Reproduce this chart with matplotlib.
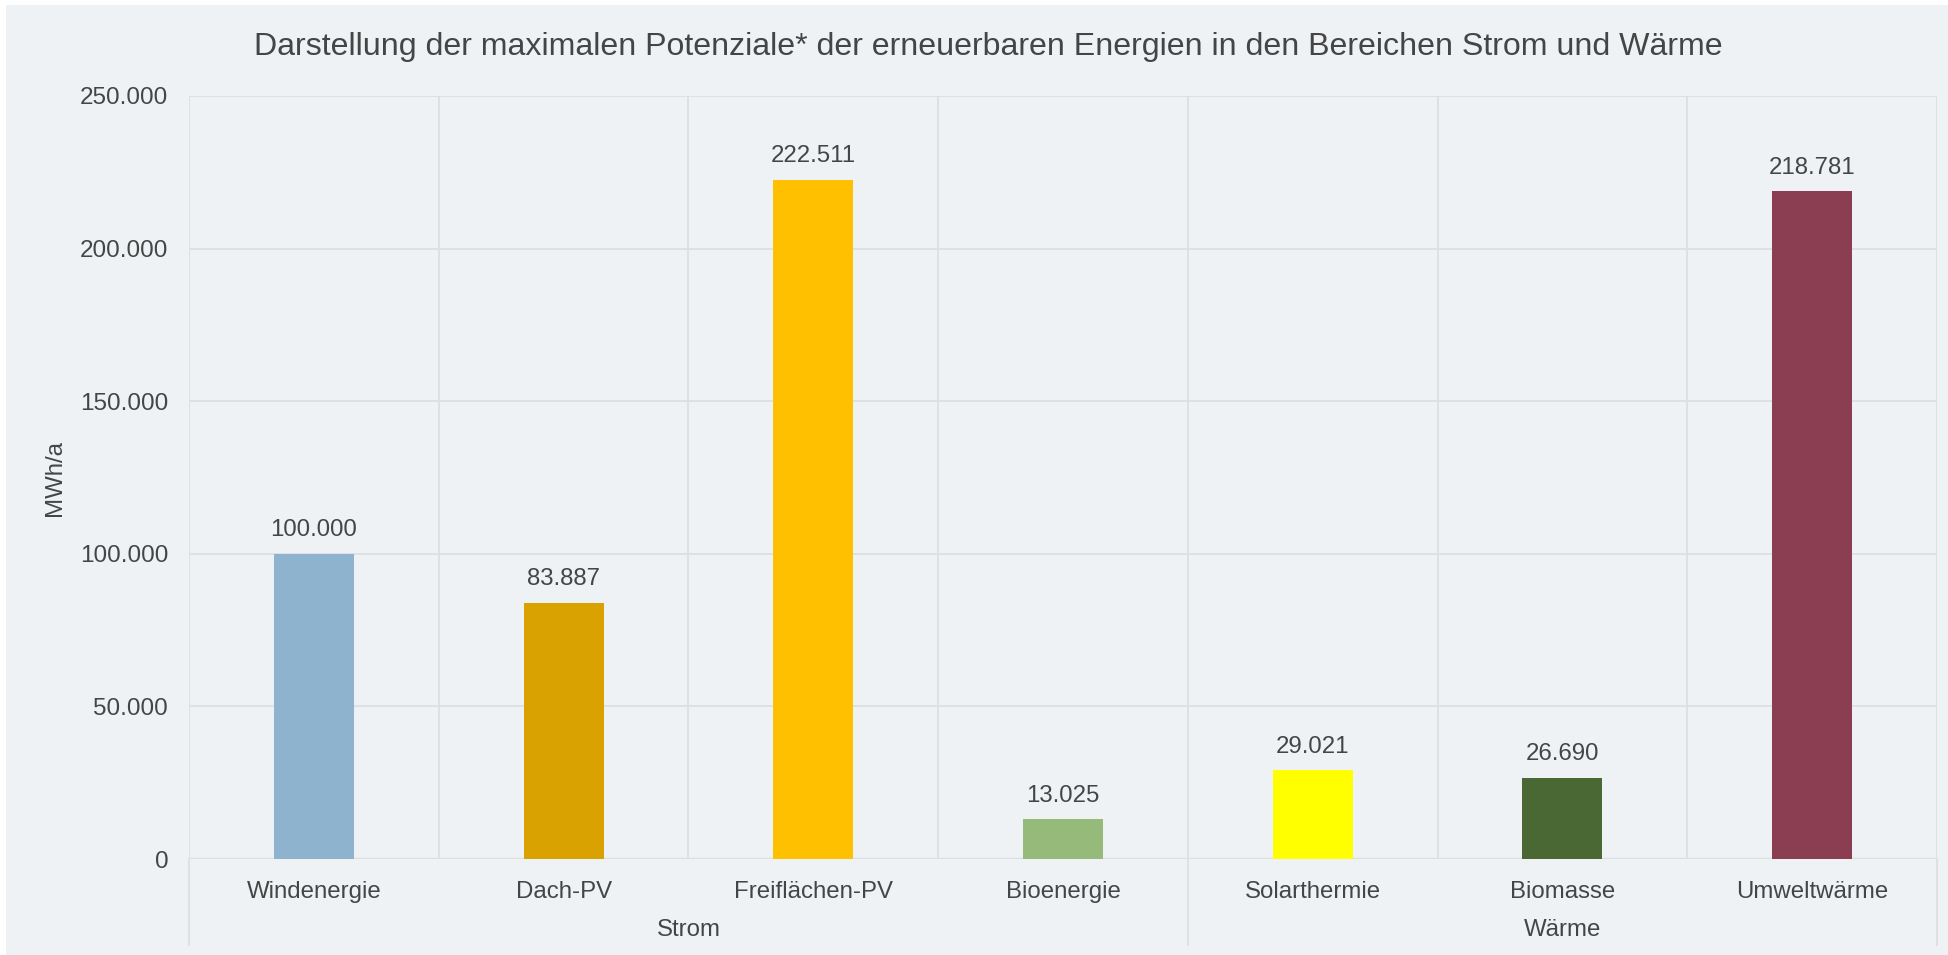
import matplotlib.pyplot as plt
from matplotlib.patches import Rectangle

plt.rcParams['font.family'] = ['Liberation Sans', 'DejaVu Sans']

# Data
categories = ['Windenergie', 'Dach-PV', 'Freiflächen-PV', 'Bioenergie',
              'Solarthermie', 'Biomasse', 'Umweltwärme']
values = [100000, 83887, 222511, 13025, 29021, 26690, 218781]
colors = ['#8DB3CF', '#D9A200', '#FFC000', '#96BA7A',
          '#FFFF00', '#4A6834', '#8B3E52']
groups = ['Strom', 'Wärme']
group_sizes = [4, 3]
yticks = [0, 50000, 100000, 150000, 200000, 250000]

bg = '#EEF2F5'
txt = '#454545'
grid = '#DDDFE1'

def fmt(v):
    return f'{v:,.0f}'.replace(',', '.')

W, H = 1949, 955
fig = plt.figure(figsize=(W / 100, H / 100), dpi=100, facecolor='white')
fig.patches.append(Rectangle((6 / W, 0), 1 - 6 / W, 1 - 5 / H,
                             transform=fig.transFigure, facecolor=bg,
                             edgecolor='none', zorder=-10))

ax = fig.add_axes([189 / W, (H - 859) / H, (1937 - 189) / W, (859 - 96) / H])
ax.set_facecolor(bg)

x = list(range(len(categories)))
bars = ax.bar(x, values, width=0.32, color=colors, zorder=3)
for xi, v in zip(x, values):
    ax.annotate(fmt(v), (xi, v), xytext=(0, 9), textcoords='offset points',
                ha='center', va='bottom', fontsize=17.3, color=txt)

ax.set_xlim(-0.5, len(categories) - 0.5)
ax.set_ylim(0, 250000)
ax.set_yticks(yticks)
ax.set_yticklabels([fmt(v) for v in yticks], fontsize=17.5, color=txt)
ax.set_xticks(x)
ax.set_xticklabels(categories, fontsize=17.3, color=txt)
ax.tick_params(axis='both', length=0)
ax.tick_params(axis='y', pad=15)
ax.tick_params(axis='x', pad=16)

for s in ax.spines.values():
    s.set_visible(False)

# horizontal grid + category boundaries
for yv in yticks:
    ax.axhline(yv, color=grid, lw=1.3 if yv else 2.5, zorder=1)
for b in range(len(categories) + 1):
    ax.axvline(b - 0.5, color=grid, lw=1.3, zorder=1)

# group separators below the axis and group labels
bottom = -(945 - 859) / (859 - 96)
start = 0
for i, (g, n) in enumerate(zip(groups, group_sizes)):
    ax.plot([start - 0.5, start - 0.5], [0, bottom], transform=ax.get_xaxis_transform(),
            color=grid, lw=1.3, clip_on=False)
    ax.text(start - 0.5 + n / 2, -(930 - 859) / (859 - 96), g,
            transform=ax.get_xaxis_transform(), ha='center', va='center',
            fontsize=17.3, color=txt)
    start += n
ax.plot([start - 0.5, start - 0.5], [0, bottom], transform=ax.get_xaxis_transform(),
        color=grid, lw=1.3, clip_on=False)

ax.set_ylabel('MWh/a', fontsize=17.3, color=txt)
ax.yaxis.set_label_coords(-(189 - 66) / (1937 - 189), 0.5)

fig.text(988 / W, 1 - 47 / H,
         'Darstellung der maximalen Potenziale* der erneuerbaren Energien in den Bereichen Strom und Wärme',
         ha='center', va='center', fontsize=23.1, color=txt)

fig.savefig('out.png', dpi=100, facecolor=fig.get_facecolor())
